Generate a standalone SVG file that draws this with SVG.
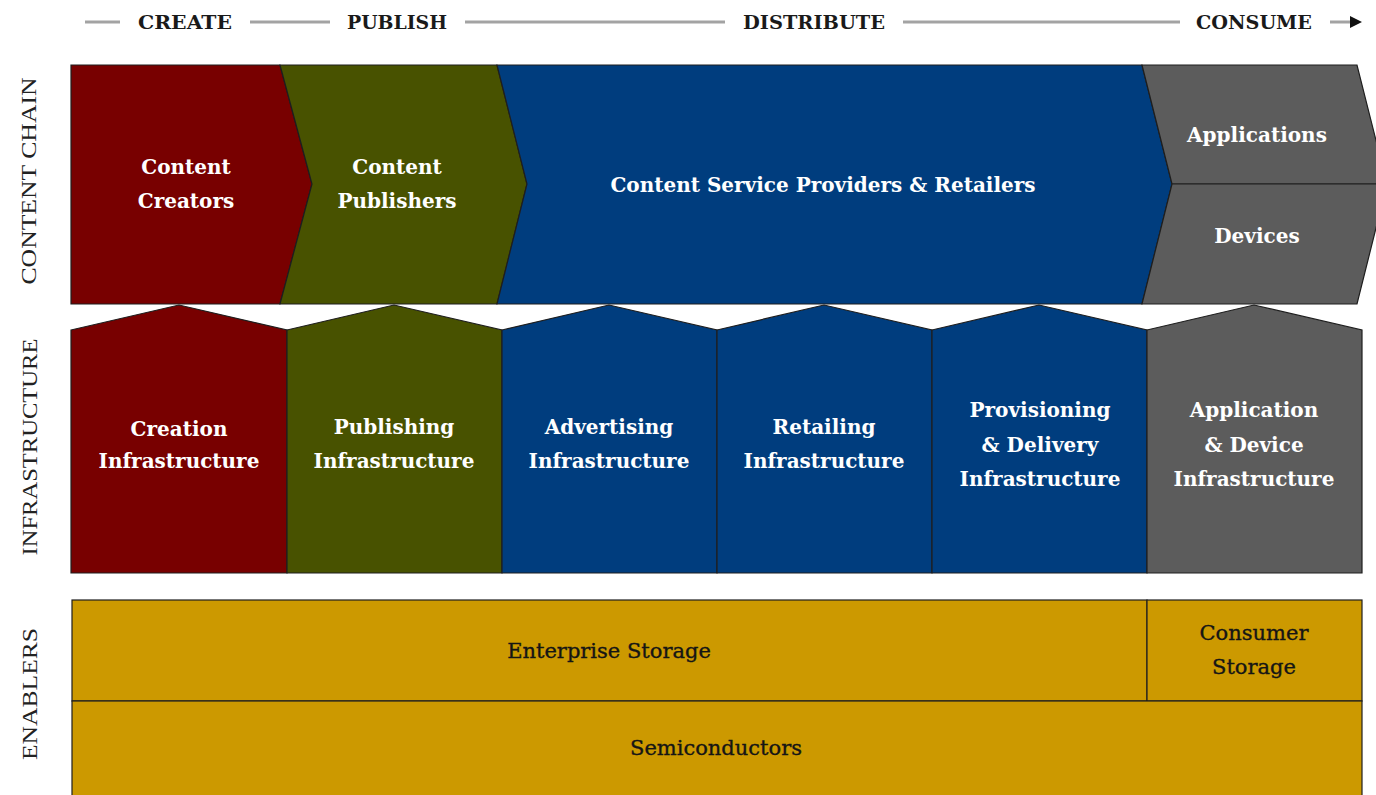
<svg xmlns="http://www.w3.org/2000/svg" width="1376" height="795" viewBox="0 0 1376 795">
<defs>
<style>
.hdr{font-family:"DejaVu Serif","Liberation Serif",serif;font-weight:bold;font-size:18px;fill:#1a1a1a;text-anchor:middle}
.side{font-family:"Liberation Serif","DejaVu Serif",serif;font-size:22px;fill:#222;text-anchor:middle}
.wt{font-family:"DejaVu Serif","Liberation Serif",serif;font-weight:bold;font-size:20px;fill:#fff;text-anchor:middle}
.dk{font-family:"DejaVu Serif","Liberation Serif",serif;font-size:21px;fill:#151515;stroke:#151515;stroke-width:0.35;text-anchor:middle}
.sh{stroke:#1e1e1e;stroke-width:1.2;stroke-linejoin:miter}
.red{fill:#780000}.olv{fill:#485200}.blu{fill:#003d7e}.gry{fill:#5c5c5c}.gld{fill:#cc9900}
.hl{stroke:#a3a3a3;stroke-width:3;fill:none}
</style>
<marker id="ah" markerWidth="4" markerHeight="4" refX="0" refY="2" orient="auto" markerUnits="strokeWidth">
<path d="M0,0 L4,2 L0,4 Z" fill="#111"/>
</marker>
</defs>
<rect width="1376" height="795" fill="#fff"/>

<g id="connectors">
<line class="hl" x1="85" y1="22" x2="120" y2="22"/>
<line class="hl" x1="250" y1="22" x2="330" y2="22"/>
<line class="hl" x1="465" y1="22" x2="725" y2="22"/>
<line class="hl" x1="903" y1="22" x2="1180" y2="22"/>
<line class="hl" x1="1330" y1="22" x2="1350" y2="22" marker-end="url(#ah)"/>
</g>

<g id="header">
<text class="hdr" x="185" y="29" textLength="94" lengthAdjust="spacingAndGlyphs">CREATE</text>
<text class="hdr" x="397" y="29" textLength="100" lengthAdjust="spacingAndGlyphs">PUBLISH</text>
<text class="hdr" x="814" y="29" textLength="142" lengthAdjust="spacingAndGlyphs">DISTRIBUTE</text>
<text class="hdr" x="1254" y="29" textLength="116" lengthAdjust="spacingAndGlyphs">CONSUME</text>
</g>

<g id="side-labels">
<text class="side" transform="translate(36,181) rotate(-90)" textLength="207" lengthAdjust="spacingAndGlyphs">CONTENT CHAIN</text>
<text class="side" transform="translate(37,447) rotate(-90)" textLength="217" lengthAdjust="spacingAndGlyphs">INFRASTRUCTURE</text>
<text class="side" transform="translate(37,694) rotate(-90)" textLength="132" lengthAdjust="spacingAndGlyphs">ENABLERS</text>
</g>

<g id="content-creators">
<polygon class="sh red" points="71,65 280,65 312,184 280,304 71,304"/>
<text class="wt" x="186" y="174">Content</text>
<text class="wt" x="186" y="208">Creators</text>
</g>
<g id="content-publishers">
<polygon class="sh olv" points="280,65 497,65 527,184 497,304 280,304 312,184"/>
<text class="wt" x="397" y="174">Content</text>
<text class="wt" x="397" y="208">Publishers</text>
</g>
<g id="content-service-providers">
<polygon class="sh blu" points="497,65 1142,65 1172,184 1142,304 497,304 527,184"/>
<text class="wt" x="823" y="192">Content Service Providers &amp; Retailers</text>
</g>
<g id="applications">
<polygon class="sh gry" points="1142,65 1357,65 1387,184 1172,184"/>
<text class="wt" x="1257" y="142">Applications</text>
</g>
<g id="devices">
<polygon class="sh gry" points="1172,184 1387,184 1357,304 1142,304"/>
<text class="wt" x="1257" y="243">Devices</text>
</g>

<g id="creation-infrastructure">
<polygon class="sh red" points="71,330 179,305 287,330 287,573 71,573"/>
<text class="wt" x="179" y="436">Creation</text>
<text class="wt" x="179" y="468">Infrastructure</text>
</g>
<g id="publishing-infrastructure">
<polygon class="sh olv" points="287,330 394,305 502,330 502,573 287,573"/>
<text class="wt" x="394" y="434">Publishing</text>
<text class="wt" x="394" y="468">Infrastructure</text>
</g>
<g id="advertising-infrastructure">
<polygon class="sh blu" points="502,330 609,305 717,330 717,573 502,573"/>
<text class="wt" x="609" y="434">Advertising</text>
<text class="wt" x="609" y="468">Infrastructure</text>
</g>
<g id="retailing-infrastructure">
<polygon class="sh blu" points="717,330 824,305 932,330 932,573 717,573"/>
<text class="wt" x="824" y="434">Retailing</text>
<text class="wt" x="824" y="468">Infrastructure</text>
</g>
<g id="provisioning-infrastructure">
<polygon class="sh blu" points="932,330 1039,305 1147,330 1147,573 932,573"/>
<text class="wt" x="1040" y="417">Provisioning</text>
<text class="wt" x="1040" y="452">&amp; Delivery</text>
<text class="wt" x="1040" y="486">Infrastructure</text>
</g>
<g id="application-device-infrastructure">
<polygon class="sh gry" points="1147,330 1254,305 1362,330 1362,573 1147,573"/>
<text class="wt" x="1254" y="417">Application</text>
<text class="wt" x="1254" y="452">&amp; Device</text>
<text class="wt" x="1254" y="486">Infrastructure</text>
</g>

<g id="enterprise-storage">
<rect class="sh gld" x="72" y="600" width="1075" height="101"/>
<text class="dk" x="609" y="658">Enterprise Storage</text>
</g>
<g id="consumer-storage">
<rect class="sh gld" x="1147" y="600" width="215" height="101"/>
<text class="dk" x="1254" y="640">Consumer</text>
<text class="dk" x="1254" y="674">Storage</text>
</g>
<g id="semiconductors">
<rect class="sh gld" x="72" y="701" width="1290" height="110"/>
<text class="dk" x="716" y="755">Semiconductors</text>
</g>
</svg>
